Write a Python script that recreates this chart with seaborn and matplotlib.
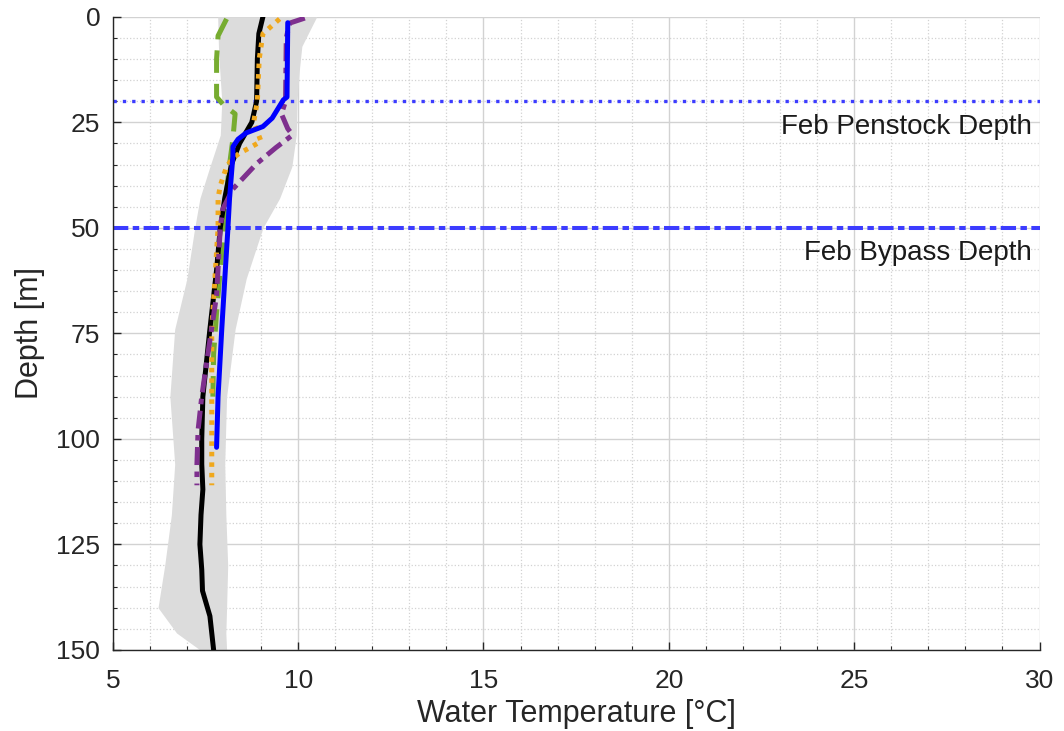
import numpy as np
import pandas as pd
import matplotlib
matplotlib.use('Agg')
import matplotlib.pyplot as plt
from matplotlib.ticker import MultipleLocator
import seaborn as sns

# Perfiles de temperatura (profundidad en m, temperatura en °C)
depth_mean = [0, 4, 10, 20, 25, 30, 35, 43, 50, 60, 74, 90, 100, 106, 112, 118, 125, 131, 136, 142, 150]
temp_mean = [9.05, 8.94, 8.9, 8.88, 8.75, 8.42, 8.2, 8.02, 7.9, 7.8, 7.62, 7.43, 7.4, 7.4, 7.43, 7.38, 7.35, 7.4, 7.42, 7.62, 7.72]

band_depth = [0, 4, 7, 12, 20, 28, 35.5, 43, 50, 62, 74, 90, 106, 118, 130, 140, 146, 150]
band_low = [7.83, 7.84, 7.85, 7.88, 7.94, 7.9, 7.62, 7.35, 7.21, 7.0, 6.67, 6.54, 6.67, 6.58, 6.4, 6.22, 6.72, 7.35]
band_high = [10.5, 10.27, 10.1, 10.04, 9.97, 9.95, 9.83, 9.5, 9.05, 8.6, 8.3, 8.07, 8.02, 8.05, 8.1, 8.07, 8.05, 8.07]

depth_green = [0.5, 4.5, 10, 19, 21, 23, 29, 35, 43, 54, 70, 80, 90]
temp_green = [8.07, 7.84, 7.8, 7.8, 8.0, 8.3, 8.24, 8.15, 8.05, 7.96, 7.8, 7.72, 7.7]

depth_orange = [0.5, 4, 10, 20, 25, 29.5, 31, 32.3, 33.5, 35.5, 40, 43, 50, 74, 90, 111]
temp_orange = [9.5, 9.05, 8.95, 8.9, 8.8, 9.0, 8.7, 8.42, 8.24, 8.07, 7.9, 7.84, 7.84, 7.67, 7.67, 7.67]

depth_purple = [0.3, 1.5, 5, 20, 23, 26.5, 28, 31, 34.8, 40.8, 45.5, 50, 66, 82, 90, 98, 106, 111]
temp_purple = [10.18, 9.77, 9.68, 9.66, 9.55, 9.72, 9.85, 9.4, 8.88, 8.24, 7.97, 7.9, 7.8, 7.53, 7.4, 7.3, 7.27, 7.27]

depth_blue = [1.4, 19, 19.7, 24, 26, 27.5, 29, 30.8, 33, 43, 51, 58, 74, 90, 102]
temp_blue = [9.72, 9.7, 9.6, 9.3, 9.05, 8.6, 8.38, 8.24, 8.24, 8.15, 8.1, 8.05, 7.94, 7.84, 7.8]

penstock_depth = 20
bypass_depth = 50

sns.set_style('white')
plt.rcParams['font.family'] = ['Liberation Sans', 'DejaVu Sans']

fig = plt.figure(figsize=(10.64, 7.31), dpi=100)
ax = fig.add_axes([0.106, 0.111, 0.871, 0.866])

# Banda de rango
ax.fill_betweenx(band_depth, band_low, band_high, color='#dcdcdc', lw=0, zorder=1)

# Profundidades de toma
ax.axhline(penstock_depth, color='#3c3cff', lw=2.4, dashes=(1, 1.8), dash_capstyle='butt', zorder=2)
ax.axhline(bypass_depth, color='#3c3cff', lw=2.9, dashes=(3.8, 1.1, 1.6, 1.1), dash_capstyle='butt', zorder=2)

perfiles = [
    (temp_green, depth_green, '#77ac30', (4.5, 2.2)),
    (temp_mean, depth_mean, 'black', None),
    (temp_orange, depth_orange, '#f0a81c', (0.9, 1.2)),
    (temp_purple, depth_purple, '#7e2f8e', (3.6, 1.3, 1.1, 1.3)),
    (temp_blue, depth_blue, '#0000ff', None),
]
for t, d, c, dsh in perfiles:
    df = pd.DataFrame({'T': t, 'D': d})
    sns.lineplot(data=df, x='T', y='D', sort=False, estimator=None, color=c, lw=3.6, ax=ax, zorder=3)
    ln = ax.get_lines()[-1]
    if dsh is not None:
        ln.set_dashes(dsh)
        ln.set_dash_capstyle('butt')

ax.text(29.8, 26, 'Feb Penstock Depth', ha='right', va='center', fontsize=20, color='#1a1a1a')
ax.text(29.8, 56, 'Feb Bypass Depth', ha='right', va='center', fontsize=20, color='#1a1a1a')

ax.set_xlim(5, 30)
ax.set_ylim(150, 0)
ax.xaxis.set_major_locator(MultipleLocator(5))
ax.xaxis.set_minor_locator(MultipleLocator(1))
ax.yaxis.set_major_locator(MultipleLocator(25))
ax.yaxis.set_minor_locator(MultipleLocator(5))
ax.grid(which='major', color='#d2d2d2', lw=1.0, ls='-', zorder=0)
ax.grid(which='minor', color='#d2d2d2', lw=0.9, ls=':', zorder=0)
ax.set_axisbelow(True)

ax.tick_params(which='both', direction='in', colors='#262626', labelsize=19, top=False, right=False, bottom=True, left=True)
ax.tick_params(which='major', length=6, width=1)
ax.tick_params(which='minor', length=3, width=0.8)
ax.tick_params(axis='x', which='major', pad=14)
ax.tick_params(axis='y', which='major', pad=9)
for s in ['top', 'right']:
    ax.spines[s].set_visible(False)
for s in ['left', 'bottom']:
    ax.spines[s].set_color('#262626')
    ax.spines[s].set_linewidth(1.0)

ax.set_xlabel('Water Temperature [°C]', fontsize=22, color='#262626', labelpad=4)
ax.set_ylabel('Depth [m]', fontsize=22, color='#262626', labelpad=8)

fig.savefig('out.png', dpi=100)
